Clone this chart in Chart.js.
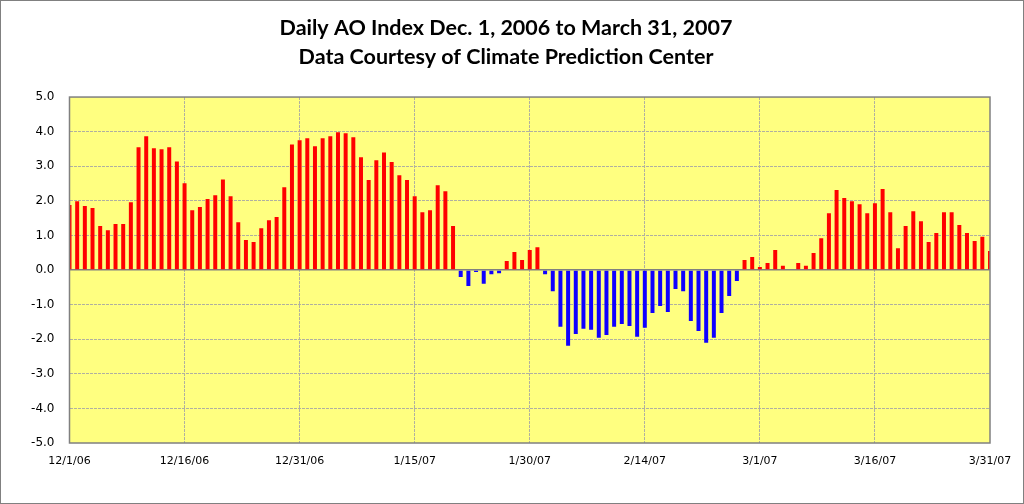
<!DOCTYPE html>
<html>
<head>
<meta charset="utf-8">
<script src="https://cdn.jsdelivr.net/npm/chart.js@4/dist/chart.umd.min.js"></script>
<style>
  html, body { margin: 0; padding: 0; background: #fff; }
  #wrap { position: relative; width: 1024px; height: 504px; }
</style>
</head>
<body>
<div id="wrap"><canvas id="aoChart"></canvas></div>
<script>
// daily AO index, Dec 1 2006 .. Mar 31 2007
const decValues = [1.88,1.99,1.85,1.79,1.27,1.15,1.33,1.33,1.96,3.55,3.87,3.52,3.49,3.55,3.14,2.51,
  1.73,1.82,2.05,2.16,2.62,2.13,1.38,0.87,0.81,1.21,1.44,1.53,2.39,3.63,3.75];
const janValues = [3.81,3.58,3.81,3.87,3.98,3.95,3.84,3.26,2.60,3.17,3.40,3.12,2.74,2.60,2.13,1.67,
  1.73,2.45,2.28,1.27,-0.20,-0.46,-0.06,-0.40,-0.12,-0.09,0.26,0.52,0.29,0.58,0.66];
const febValues = [-0.12,-0.61,-1.64,-2.19,-1.85,-1.70,-1.73,-1.96,-1.88,-1.64,-1.56,-1.62,-1.93,-1.67,
  -1.24,-1.04,-1.21,-0.55,-0.61,-1.47,-1.76,-2.10,-1.96,-1.24,-0.75,-0.32,0.29,0.38];
const marValues = [0.09,0.20,0.58,0.12,0,0.20,0.12,0.49,0.92,1.64,2.31,2.08,1.99,1.90,1.64,1.93,
  2.34,1.67,0.63,1.27,1.70,1.41,0.81,1.07,1.67,1.67,1.30,1.07,0.84,0.96,0.55];
const aoValues = decValues.concat(janValues, febValues, marValues);

const yTicks = [-5,-4,-3,-2,-1,0,1,2,3,4,5];
const tickEvery = 15;  // label every 15 days

// date labels m/d/yy
const dayLabels = [];
const start = new Date(2006, 11, 1);
for (let i = 0; i < aoValues.length; i++) {
  const d = new Date(start.getFullYear(), start.getMonth(), start.getDate() + i);
  dayLabels.push((d.getMonth() + 1) + '/' + d.getDate() + '/' + String(d.getFullYear()).slice(2));
}

const barColors = aoValues.map(v => v >= 0 ? '#FF0000' : '#1000FF');
const gridGrey = '#B0B0A0';

// yellow plot area + grey borders
const plotFrame = {
  id: 'plotFrame',
  beforeDraw(chart) {
    const {ctx, chartArea: a} = chart;
    ctx.save();
    ctx.fillStyle = '#FFFF80';
    ctx.fillRect(a.left, a.top, a.right - a.left, a.bottom - a.top);
    ctx.restore();
  },
  afterDraw(chart) {
    const {ctx, chartArea: a} = chart;
    ctx.save();
    ctx.strokeStyle = '#808080';
    ctx.lineWidth = 1.5;
    ctx.strokeRect(a.left, a.top, a.right - a.left, a.bottom - a.top);
    ctx.lineWidth = 1;
    ctx.strokeRect(0.5, 0.5, chart.width - 1, chart.height - 1);
    ctx.restore();
  }
};

const data = {
  labels: dayLabels,
  datasets: [{
    data: aoValues,
    backgroundColor: barColors,
    borderWidth: 0,
    barPercentage: 0.52,
    categoryPercentage: 1.0
  }]
};

const config = {
  type: 'bar',
  data,
  plugins: [plotFrame],
  options: {
    responsive: true,
    maintainAspectRatio: false,
    animation: false,
    layout: { padding: { left: 22, right: 34, top: 0, bottom: 22 } },
    plugins: {
      legend: { display: false },
      tooltip: { enabled: false },
      title: {
        display: true,
        text: ['Daily AO Index Dec. 1, 2006 to March 31, 2007', 'Data Courtesy of Climate Prediction Center'],
        color: '#000',
        font: { family: 'Lato', size: 21.5, weight: 'bold', lineHeight: 1.35 },
        padding: { top: 14, bottom: 25 }
      }
    },
    scales: {
      x: {
        type: 'category',
        offset: false,
        border: { display: false, dash: [3, 1] },
        grid: {
          offset: false,
          drawTicks: false,
          color: c => (c.index % tickEvery === 0 && c.index > 0 && c.index < aoValues.length - 1) ? gridGrey : 'rgba(0,0,0,0)'
        },
        ticks: {
          autoSkip: false,
          maxRotation: 0,
          padding: 12,
          color: '#000',
          font: { family: 'DejaVu Sans', size: 11 },
          callback: function(v, i) { return i % tickEvery === 0 ? dayLabels[i] : ''; }
        },
        afterFit: s => { s.height = 39; }
      },
      y: {
        min: -5,
        max: 5,
        border: { display: false, dash: c => (c.tick && c.tick.value === 0) ? [] : [3, 1] },
        grid: {
          drawTicks: false,
          color: c => {
            const v = c.tick.value;
            if (v === 0) return '#808080';
            if (v === 5 || v === -5) return 'rgba(0,0,0,0)';
            return gridGrey;
          },
          lineWidth: c => c.tick.value === 0 ? 1.5 : 1
        },
        afterBuildTicks: s => { s.ticks = yTicks.map(v => ({ value: v })); },
        ticks: {
          padding: 15,
          color: '#000',
          font: { family: 'DejaVu Sans', size: 12 },
          callback: v => v.toFixed(1)
        },
        afterFit: s => { s.width = 47.5; }
      }
    }
  }
};

const aoChart = new Chart(document.getElementById('aoChart'), config);
</script>
</body>
</html>
